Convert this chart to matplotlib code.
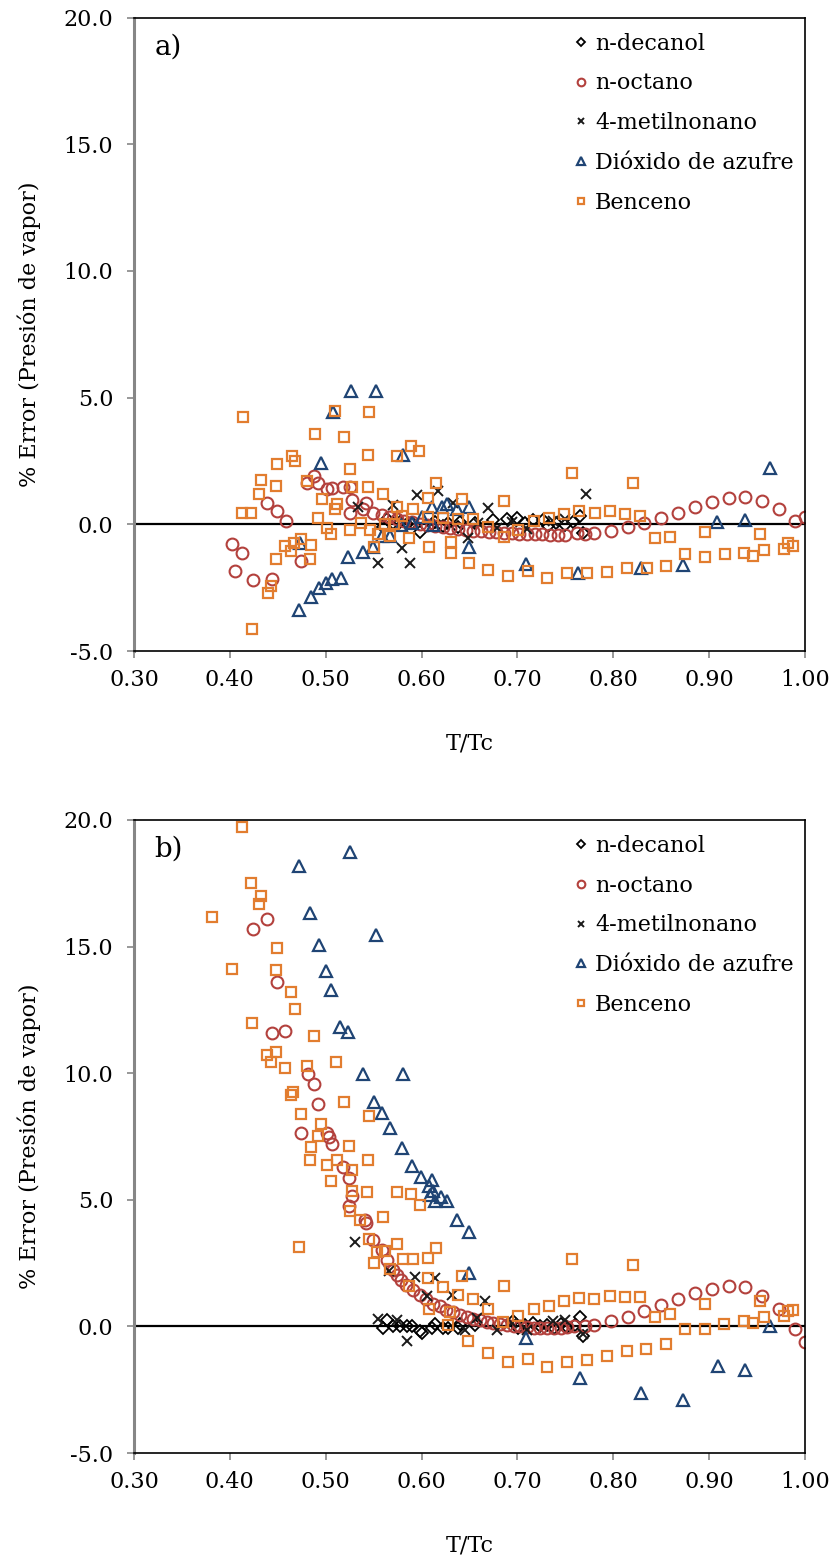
import matplotlib
matplotlib.use("Agg")
import matplotlib.pyplot as plt
from matplotlib.ticker import FixedLocator, FormatStrFormatter

plt.rcParams['font.family'] = ['DejaVu Serif']

series_names = ["n-decanol", "n-octano", "4-metilnonano", "Dióxido de azufre", "Benceno"]
x_ticks = [0.30, 0.40, 0.50, 0.60, 0.70, 0.80, 0.90, 1.00]
y_ticks = [-5.0, 0.0, 5.0, 10.0, 15.0, 20.0]
panel_tags = ["a)", "b)"]
x_label = "T/Tc"
y_label = "% Error (Presión de vapor)"

# ---------------- panel a ----------------
a_decanol_t = [0.5600, 0.5636, 0.5705, 0.5775, 0.5845, 0.5897, 0.5983, 0.6105, 0.6140, 0.6227,
               0.6279, 0.6383, 0.6401, 0.6557, 0.6742, 0.6894, 0.6991, 0.7080, 0.7166, 0.7270,
               0.7322, 0.7400, 0.7496, 0.7580, 0.7653, 0.7687]
a_decanol_e = [-0.10, 0.20, 0.05, 0.10, 0.00, 0.05, -0.29, 0.00, 0.10, -0.05,
               0.05, -0.10, 0.10, 0.05, 0.17, 0.20, 0.23, 0.05, 0.17, 0.17,
               -0.07, 0.05, -0.03, 0.10, 0.33, -0.36]

a_octano_t = [0.4019, 0.4054, 0.4123, 0.4245, 0.4384, 0.4436, 0.4488, 0.4582, 0.4739, 0.4808,
              0.4878, 0.4923, 0.5010, 0.5062, 0.5184, 0.5253, 0.5271, 0.5253, 0.5392, 0.5420,
              0.5496, 0.5584, 0.5660, 0.5740, 0.5820, 0.5900, 0.5980, 0.6060, 0.6140, 0.6220,
              0.6300, 0.6380, 0.6460, 0.6540, 0.6620, 0.6700, 0.6780, 0.6860, 0.6940, 0.7020,
              0.7100, 0.7180, 0.7260, 0.7340, 0.7420, 0.7496, 0.7618, 0.7705, 0.7796, 0.7973,
              0.8150, 0.8323, 0.8497, 0.8675, 0.8852, 0.9030, 0.9204, 0.9377, 0.9554, 0.9732,
              0.9900, 1.0000]
a_octano_e = [-0.79, -1.83, -1.14, -2.20, 0.85, -2.15, 0.52, 0.12, -1.44, 1.64,
              1.91, 1.62, 1.38, 1.42, 1.46, 1.49, 0.96, 0.43, 0.59, 0.83,
              0.46, 0.37, 0.30, 0.22, 0.15, 0.08, 0.02, -0.03, -0.08, -0.12,
              -0.16, -0.19, -0.22, -0.25, -0.28, -0.30, -0.32, -0.34, -0.35, -0.37,
              -0.38, -0.39, -0.40, -0.41, -0.42, -0.42, -0.36, -0.38, -0.33, -0.25,
              -0.12, 0.04, 0.24, 0.45, 0.68, 0.89, 1.05, 1.09, 0.93, 0.62,
              0.15, 0.30]

a_metil_t = [0.5340, 0.5549, 0.5699, 0.5793, 0.5879, 0.5956, 0.6175, 0.6332, 0.6488, 0.6590,
             0.6696, 0.6784, 0.6940, 0.7097, 0.7374, 0.7496, 0.7712]
a_metil_e = [0.70, -1.52, 0.78, -0.95, -1.54, 1.15, 1.31, 0.83, -0.55, 0.04,
             0.63, -0.15, 0.10, -0.20, 0.15, 0.20, 1.18]

a_so2_t = [0.4721, 0.4732, 0.4843, 0.4930, 0.4948, 0.5003, 0.5062, 0.5079, 0.5156, 0.5236,
           0.5260, 0.5386, 0.5497, 0.5525, 0.5584, 0.5670, 0.5790, 0.5810, 0.5897, 0.6000,
           0.6105, 0.6123, 0.6210, 0.6262, 0.6366, 0.6490, 0.6495, 0.7090, 0.7632, 0.8289,
           0.8730, 0.9083, 0.9370, 0.9638]
a_so2_e = [-3.38, -0.75, -2.88, -2.50, 2.41, -2.33, -2.15, 4.45, -2.12, -1.30,
           5.27, -1.08, -0.91, 5.27, -0.46, -0.46, -0.03, 2.72, 0.04, 0.30,
           0.70, -0.03, 0.70, 0.80, 0.60, 0.69, -0.88, -1.57, -1.91, -1.74,
           -1.61, 0.08, 0.17, 2.23]

a_benz_t = [0.4124, 0.4134, 0.4217, 0.4228, 0.4307, 0.4325, 0.4394, 0.4432, 0.4481, 0.4481,
            0.4495, 0.4575, 0.4635, 0.4648, 0.4669, 0.4676, 0.4745, 0.4801, 0.4836, 0.4843,
            0.4885, 0.4923, 0.4958, 0.5010, 0.5052, 0.5097, 0.5097, 0.5115, 0.5188, 0.5250,
            0.5253, 0.5271, 0.5364, 0.5438, 0.5444, 0.5452, 0.5462, 0.5504, 0.5542, 0.5594,
            0.5618, 0.5670, 0.5712, 0.5740, 0.5747, 0.5793, 0.5872, 0.5890, 0.5907, 0.5977,
            0.6063, 0.6070, 0.6080, 0.6150, 0.6220, 0.6303, 0.6307, 0.6383, 0.6418, 0.6495,
            0.6540, 0.6696, 0.6696, 0.6860, 0.6860, 0.6898, 0.7008, 0.7106, 0.7175, 0.7311,
            0.7331, 0.7489, 0.7514, 0.7568, 0.7646, 0.7722, 0.7805, 0.7931, 0.7962, 0.8119,
            0.8140, 0.8203, 0.8276, 0.8348, 0.8435, 0.8550, 0.8595, 0.8748, 0.8957, 0.8957,
            0.9165, 0.9363, 0.9454, 0.9530, 0.9572, 0.9781, 0.9826, 0.9870]
a_benz_e = [0.43, 4.25, 0.43, -4.15, 1.20, 1.75, -2.70, -2.44, 1.51, -1.38,
            2.38, -0.86, -1.04, 2.70, -0.73, 2.50, -0.59, 1.72, -1.38, -0.83,
            3.56, 0.24, 1.00, -0.13, -0.40, 0.62, 4.47, 0.80, 3.46, 2.20,
            -0.21, 1.46, 0.04, 1.46, 2.72, 4.42, -0.22, -0.91, -0.40, 1.20,
            0.01, -0.45, 0.01, 2.70, 0.70, 0.33, -0.55, 3.10, 0.62, 2.89,
            1.05, 0.30, -0.88, 1.62, 0.24, -0.69, -1.12, 0.20, 0.98, -1.52,
            0.20, -0.09, -1.80, 0.93, -0.50, -2.04, -0.22, -1.83, 0.12, -2.13,
            0.24, 0.41, -1.94, 2.04, 0.54, -1.91, 0.45, -1.87, 0.54, 0.41,
            -1.74, 1.62, 0.34, -1.74, -0.55, -1.65, -0.51, -1.17, -0.32, -1.28,
            -1.17, -1.15, -1.24, -0.38, -1.01, -0.99, -0.75, -0.85]

# ---------------- panel b ----------------
b_decanol_t = [0.5600, 0.5636, 0.5705, 0.5775, 0.5845, 0.5897, 0.5983, 0.6001, 0.6105, 0.6140,
               0.6227, 0.6279, 0.6383, 0.6401, 0.6557, 0.6957, 0.7008, 0.7080, 0.7166, 0.7236,
               0.7305, 0.7380, 0.7450, 0.7520, 0.7600, 0.7653, 0.7687]
b_decanol_e = [-0.07, 0.26, 0.00, 0.03, 0.03, 0.00, -0.20, -0.26, -0.07, 0.11,
               -0.07, -0.06, -0.07, 0.11, 0.07, 0.20, -0.06, 0.05, 0.13, 0.00,
               0.07, -0.05, 0.10, -0.02, 0.05, 0.37, -0.39]

b_octano_t = [0.4245, 0.4384, 0.4436, 0.4488, 0.4575, 0.4739, 0.4818, 0.4878, 0.4923, 0.5010,
              0.5034, 0.5062, 0.5184, 0.5246, 0.5271, 0.5246, 0.5410, 0.5420, 0.5496, 0.5583,
              0.5635, 0.5705, 0.5740, 0.5790, 0.5840, 0.5910, 0.5980, 0.6050, 0.6120, 0.6190,
              0.6260, 0.6330, 0.6400, 0.6470, 0.6540, 0.6610, 0.6680, 0.6750, 0.6820, 0.6890,
              0.6960, 0.7030, 0.7100, 0.7170, 0.7240, 0.7310, 0.7380, 0.7450, 0.7520, 0.7590,
              0.7705, 0.7799, 0.7976, 0.8150, 0.8324, 0.8500, 0.8675, 0.8852, 0.9030, 0.9204,
              0.9377, 0.9555, 0.9732, 0.9900, 1.0000]
b_octano_e = [15.71, 16.08, 11.58, 13.62, 11.65, 7.63, 9.98, 9.58, 8.79, 7.63,
              7.48, 7.21, 6.29, 5.86, 5.16, 4.77, 4.21, 4.08, 3.42, 3.00,
              2.63, 2.24, 2.04, 1.84, 1.65, 1.45, 1.25, 1.10, 0.90, 0.80,
              0.65, 0.55, 0.45, 0.38, 0.30, 0.25, 0.18, 0.13, 0.10, 0.07,
              0.03, 0.00, -0.03, -0.06, -0.07, -0.07, -0.07, -0.06, -0.03, 0.00,
              0.03, 0.07, 0.22, 0.39, 0.62, 0.83, 1.08, 1.30, 1.49, 1.59,
              1.54, 1.22, 0.70, -0.10, -0.60]

b_metil_t = [0.5305, 0.5549, 0.5663, 0.5740, 0.5845, 0.5931, 0.6053, 0.6140, 0.6314, 0.6453,
             0.6575, 0.6662, 0.6784, 0.6940, 0.7097, 0.7374, 0.7496, 0.7687]
b_metil_e = [3.33, 0.29, 2.20, 0.24, -0.59, 1.97, 1.20, 1.91, 1.25, -0.14,
             0.33, 0.99, -0.13, 0.13, -0.16, 0.20, 0.26, -0.30]

b_so2_t = [0.4725, 0.4836, 0.4927, 0.5000, 0.5055, 0.5149, 0.5236, 0.5253, 0.5386, 0.5504,
           0.5525, 0.5590, 0.5670, 0.5799, 0.5809, 0.5903, 0.5991, 0.6080, 0.6088, 0.6105,
           0.6122, 0.6140, 0.6200, 0.6262, 0.6366, 0.6495, 0.6495, 0.7086, 0.7653, 0.8292,
           0.8730, 0.9089, 0.9370, 0.9635]
b_so2_e = [18.20, 16.32, 15.08, 14.02, 13.29, 11.84, 11.63, 18.73, 9.95, 8.88,
           15.45, 8.42, 7.82, 7.04, 9.95, 6.34, 5.92, 5.53, 5.20, 5.79,
           5.33, 4.94, 5.13, 4.94, 4.21, 3.71, 2.11, -0.46, -2.04, -2.63,
           -2.90, -1.55, -1.74, 0.00]

b_benz_t = [0.3814, 0.4022, 0.4123, 0.4217, 0.4231, 0.4307, 0.4325, 0.4391, 0.4432, 0.4481,
            0.4481, 0.4492, 0.4572, 0.4641, 0.4641, 0.4655, 0.4676, 0.4721, 0.4745, 0.4801,
            0.4836, 0.4843, 0.4881, 0.4916, 0.4954, 0.5010, 0.5052, 0.5110, 0.5114, 0.5188,
            0.5246, 0.5253, 0.5271, 0.5277, 0.5358, 0.5434, 0.5441, 0.5448, 0.5455, 0.5507,
            0.5538, 0.5594, 0.5618, 0.5671, 0.5740, 0.5747, 0.5803, 0.5872, 0.5890, 0.5907,
            0.5984, 0.6070, 0.6070, 0.6081, 0.6150, 0.6220, 0.6279, 0.6297, 0.6383, 0.6418,
            0.6487, 0.6540, 0.6696, 0.6696, 0.6853, 0.6860, 0.6898, 0.7009, 0.7106, 0.7176,
            0.7311, 0.7332, 0.7486, 0.7514, 0.7566, 0.7646, 0.7722, 0.7802, 0.7931, 0.7962,
            0.8122, 0.8140, 0.8202, 0.8279, 0.8341, 0.8435, 0.8547, 0.8595, 0.8748, 0.8957,
            0.8957, 0.9158, 0.9363, 0.9454, 0.9530, 0.9575, 0.9781, 0.9826, 0.9870]
b_benz_e = [16.16, 14.13, 19.74, 17.53, 11.98, 16.69, 16.98, 10.73, 10.44, 14.08,
            10.85, 14.95, 10.21, 13.21, 9.15, 9.24, 12.54, 3.13, 8.37, 10.30,
            6.58, 7.08, 11.46, 7.53, 8.01, 6.36, 5.76, 10.46, 6.58, 8.86,
            7.11, 4.57, 5.33, 6.19, 4.21, 5.29, 6.58, 8.29, 3.45, 2.50,
            2.92, 4.34, 2.96, 2.27, 5.29, 3.26, 2.67, 1.58, 5.24, 2.66,
            4.80, 2.72, 1.93, 0.69, 3.09, 1.56, 0.07, 0.55, 1.25, 2.00,
            -0.59, 1.08, 0.69, -1.05, 0.16, 1.61, -1.40, 0.40, -1.28, 0.70,
            -1.60, 0.79, 0.99, -1.42, 2.66, 1.12, -1.31, 1.08, -1.18, 1.21,
            1.17, -0.99, 2.44, 1.17, -0.88, 0.36, -0.70, 0.49, -0.10, 0.88,
            -0.10, 0.09, 0.20, 0.13, 0.99, 0.37, 0.40, 0.59, 0.65]

panels = [
    [(a_decanol_t, a_decanol_e), (a_octano_t, a_octano_e), (a_metil_t, a_metil_e),
     (a_so2_t, a_so2_e), (a_benz_t, a_benz_e)],
    [(b_decanol_t, b_decanol_e), (b_octano_t, b_octano_e), (b_metil_t, b_metil_e),
     (b_so2_t, b_so2_e), (b_benz_t, b_benz_e)],
]

styles = [
    dict(marker="D", ms=6.0, mec="#000000", mfc="none", mew=1.3),
    dict(marker="o", ms=8.5, mec="#B3413D", mfc="none", mew=1.5),
    dict(marker="x", ms=7.5, mec="#1A1A1A", mfc="none", mew=1.4),
    dict(marker="^", ms=8.5, mec="#1F4474", mfc="none", mew=1.6),
    dict(marker="s", ms=6.5, mec="#E27D2F", mfc="none", mew=1.6),
]

W, H = 833, 1564
fig = plt.figure(figsize=(W / 100, H / 100), dpi=100)
left, right = 134, 805
frames = [(17.6, 651), (820, 1453)]

for idx, (top, bottom) in enumerate(frames):
    ax = fig.add_axes([left / W, 1 - bottom / H, (right - left) / W, (bottom - top) / H])
    for name, (t, e), st in zip(series_names, panels[idx], styles):
        ax.plot(t, e, linestyle="none", label=name, **st)
    ax.axhline(0, color="black", lw=1.6, zorder=1)
    ax.set_xlim(0.30, 1.00)
    ax.set_ylim(-5.0, 20.0)
    ax.xaxis.set_major_locator(FixedLocator(x_ticks))
    ax.yaxis.set_major_locator(FixedLocator(y_ticks))
    ax.xaxis.set_major_formatter(FormatStrFormatter("%.2f"))
    ax.yaxis.set_major_formatter(FormatStrFormatter("%.1f"))
    ax.tick_params(axis="both", direction="out", length=5, width=1.2,
                   color="#868686", labelsize=16)
    ax.tick_params(axis="y", pad=10)
    ax.tick_params(axis="x", pad=8)
    for side in ("top", "right", "bottom"):
        ax.spines[side].set_color("black")
        ax.spines[side].set_linewidth(1.2)
    ax.spines["left"].set_color("#868686")
    ax.spines["left"].set_linewidth(2.2)
    ax.set_xlabel(x_label, fontsize=16, labelpad=30)
    ax.set_ylabel(y_label, fontsize=16, labelpad=16)
    ax.text(0.03, 0.975, panel_tags[idx], transform=ax.transAxes, fontsize=20,
            ha="left", va="top")
    leg = ax.legend(loc="upper right", frameon=False, fontsize=16, markerscale=0.65,
                    handlelength=0.6, handletextpad=0.35, labelspacing=0.8,
                    borderaxespad=0.1, bbox_to_anchor=(1.0, 0.994))

fig.savefig("out.png", dpi=100)
